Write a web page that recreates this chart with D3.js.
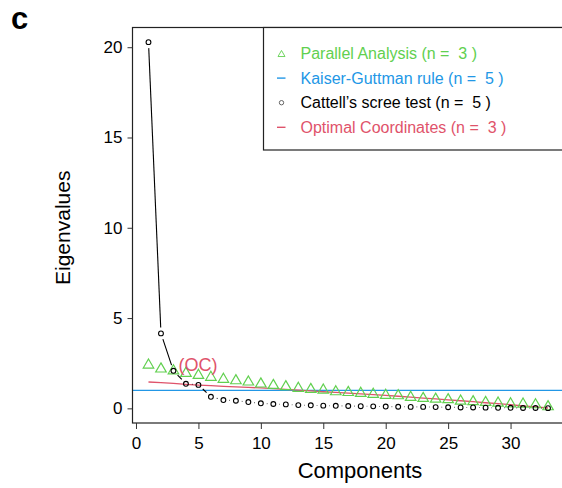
<!DOCTYPE html>
<html>
<head>
<meta charset="utf-8">
<style>
  body { margin: 0; background: #fff; }
  svg { display: block; font-family: "Liberation Sans", Arial, sans-serif; }
  .tick text { font-size: 17px; fill: #000; }
  .tick line { stroke: #333; }
</style>
<script src="https://cdn.jsdelivr.net/npm/d3@7"></script>
</head>
<body>
<svg width="562" height="488"></svg>
<script>
// components (x) and the eigenvalue series
var components = [1, 2, 3, 4, 5, 6, 7, 8, 9, 10, 11, 12, 13, 14, 15, 16, 17,
  18, 19, 20, 21, 22, 23, 24, 25, 26, 27, 28, 29, 30, 31, 32, 33];
var screeEig = [20.28, 4.15, 2.08, 1.36, 1.30, 0.64, 0.46, 0.42, 0.35, 0.28, 0.24,
  0.22, 0.18, 0.17, 0.15, 0.14, 0.13, 0.12, 0.11, 0.10, 0.09, 0.08, 0.08, 0.07,
  0.06, 0.05, 0.05, 0.04, 0.03, 0.03, 0.02, 0.02, 0.01];
var parallelEig = [2.40, 2.18, 2.08, 1.94, 1.83, 1.72, 1.61, 1.53, 1.46, 1.35, 1.27,
  1.20, 1.11, 1.05, 1.01, 0.92, 0.88, 0.83, 0.78, 0.72, 0.70, 0.61, 0.55, 0.51,
  0.48, 0.40, 0.37, 0.33, 0.29, 0.25, 0.24, 0.20, 0.09];
var ocEig = [1.46, 1.42, 1.38, 1.33, 1.29, 1.26, 1.22, 1.19, 1.16, 1.13, 1.09,
  1.05, 1.01, 0.97, 0.92, 0.88, 0.84, 0.80, 0.76, 0.72, 0.67, 0.62, 0.57, 0.52,
  0.47, 0.42, 0.37, 0.31, 0.26, 0.20, 0.14, 0.08, 0.02];
var kaiserLevel = 1;
var nOC = 3;
var xTicks = [0, 5, 10, 15, 20, 25, 30];
var yTicks = [0, 5, 10, 15, 20];
var legendLabels = ["Parallel Analysis (n =  3 )", "Kaiser-Guttman rule (n =  5 )",
  "Cattell\u2019s scree test (n =  5 )", "Optimal Coordinates (n =  3 )"];

var green = "#61D04F", blue = "#2297E6", red = "#DF536B";

var svg = d3.select("svg");
var pL = 132.5, pR = 564, pT = 27.5, pB = 423;

// R style 4% padding on both ends
var xExt = d3.extent(components), xPad = (xExt[1] - xExt[0]) * 0.04;
var yMax = d3.max(screeEig), yPad = yMax * 0.04;
var x = d3.scaleLinear().domain([xExt[0] - xPad, xExt[1] + xPad]).range([pL, pR]);
var y = d3.scaleLinear().domain([-yPad, yMax + yPad]).range([pB, pT]);

// kaiser line
svg.append("line")
  .attr("x1", pL).attr("x2", pR)
  .attr("y1", y(kaiserLevel)).attr("y2", y(kaiserLevel))
  .attr("stroke", blue).attr("stroke-width", 1.3);

// optimal coordinates line
svg.append("path")
  .datum(components)
  .attr("d", d3.line().x(function (d) { return x(d); }).y(function (d, i) { return y(ocEig[i]); }))
  .attr("fill", "none").attr("stroke", red).attr("stroke-width", 1.3);

// parallel analysis triangles
var tri = function (s) {
  var r = s / Math.sqrt(3);
  return "M0," + (-r) + "L" + (s / 2) + "," + (r / 2) + "L" + (-s / 2) + "," + (r / 2) + "Z";
};
svg.append("g").selectAll("path")
  .data(components)
  .enter().append("path")
  .attr("transform", function (d, i) { return "translate(" + x(d) + "," + y(parallelEig[i]) + ")"; })
  .attr("d", tri(10.5))
  .attr("fill", "none").attr("stroke", green).attr("stroke-width", 1.2);

// scree: type "b" line with gaps around the points
var pts = components.map(function (d, i) { return [x(d), y(screeEig[i])]; });
var gap = 6;
svg.append("g").selectAll("line")
  .data(d3.pairs(pts).filter(function (p) {
    return Math.hypot(p[1][0] - p[0][0], p[1][1] - p[0][1]) > 2 * gap;
  }))
  .enter().append("line")
  .each(function (p) {
    var dx = p[1][0] - p[0][0], dy = p[1][1] - p[0][1], L = Math.hypot(dx, dy);
    var ux = dx / L, uy = dy / L;
    d3.select(this)
      .attr("x1", p[0][0] + ux * gap).attr("y1", p[0][1] + uy * gap)
      .attr("x2", p[1][0] - ux * gap).attr("y2", p[1][1] - uy * gap);
  })
  .attr("stroke", "#000").attr("stroke-width", 1.1);

svg.append("g").selectAll("circle")
  .data(pts)
  .enter().append("circle")
  .attr("cx", function (d) { return d[0]; })
  .attr("cy", function (d) { return d[1]; })
  .attr("r", 2.4)
  .attr("fill", "none").attr("stroke", "#000").attr("stroke-width", 1.1);

// (OC) label
svg.append("text")
  .attr("x", x(nOC)).attr("y", y(screeEig[nOC - 1]))
  .attr("font-size", 18).attr("fill", red)
  .style("white-space", "pre")
  .text(" (OC)");

// frame
svg.append("rect")
  .attr("x", pL).attr("y", pT)
  .attr("width", pR - pL).attr("height", pB - pT)
  .attr("fill", "none").attr("stroke", "#222").attr("stroke-width", 1.2);

// axes
var gx = svg.append("g").attr("transform", "translate(0," + pB + ")")
  .call(d3.axisBottom(x).tickValues(xTicks).tickSize(6).tickPadding(8));
var gy = svg.append("g").attr("transform", "translate(" + pL + ",0)")
  .call(d3.axisLeft(y).tickValues(yTicks).tickSize(5).tickPadding(5));
gx.select(".domain").remove();
gy.select(".domain").remove();
gx.selectAll("text").attr("font-family", null).attr("font-size", null);
gy.selectAll("text").attr("font-family", null).attr("font-size", null);

// axis titles
svg.append("text")
  .attr("x", 360).attr("y", 478)
  .attr("text-anchor", "middle").attr("font-size", 22)
  .text("Components");
svg.append("text")
  .attr("transform", "translate(70," + (y(0) + y(20)) / 2 + ") rotate(-90)")
  .attr("text-anchor", "middle").attr("font-size", 21)
  .text("Eigenvalues");

// panel letter
svg.append("text")
  .attr("x", 11).attr("y", 29)
  .attr("font-size", 31).attr("font-weight", "bold")
  .text("c");

// legend
var lg = svg.append("g");
lg.append("rect")
  .attr("x", 263.5).attr("y", pT)
  .attr("width", pR - 263.5).attr("height", 150 - pT)
  .attr("fill", "#fff").attr("stroke", "#222").attr("stroke-width", 1.2);
var legendColors = [green, blue, "#000", red];
var row = lg.selectAll(".row")
  .data(legendLabels)
  .enter().append("g")
  .attr("class", "row")
  .attr("transform", function (d, i) { return "translate(0," + (53.5 + i * 24.6) + ")"; });
row.append("text")
  .attr("x", 300.5).attr("dy", "0.35em")
  .attr("font-size", 16)
  .attr("fill", function (d, i) { return legendColors[i]; })
  .style("white-space", "pre")
  .text(function (d) { return d; });
row.filter(function (d, i) { return i === 0; }).append("path")
  .attr("transform", "translate(281.5,1)")
  .attr("d", tri(7)).attr("fill", "none").attr("stroke", green).attr("stroke-width", 0.9);
row.filter(function (d, i) { return i === 1 || i === 3; }).append("line")
  .attr("x1", 277).attr("x2", 285.5)
  .attr("stroke", function (d, i) { return i === 0 ? blue : red; })
  .attr("stroke-width", 1.4);
row.filter(function (d, i) { return i === 2; }).append("circle")
  .attr("cx", 281.5).attr("r", 2.2)
  .attr("fill", "none").attr("stroke", "#555").attr("stroke-width", 0.9);
</script>
</body>
</html>
